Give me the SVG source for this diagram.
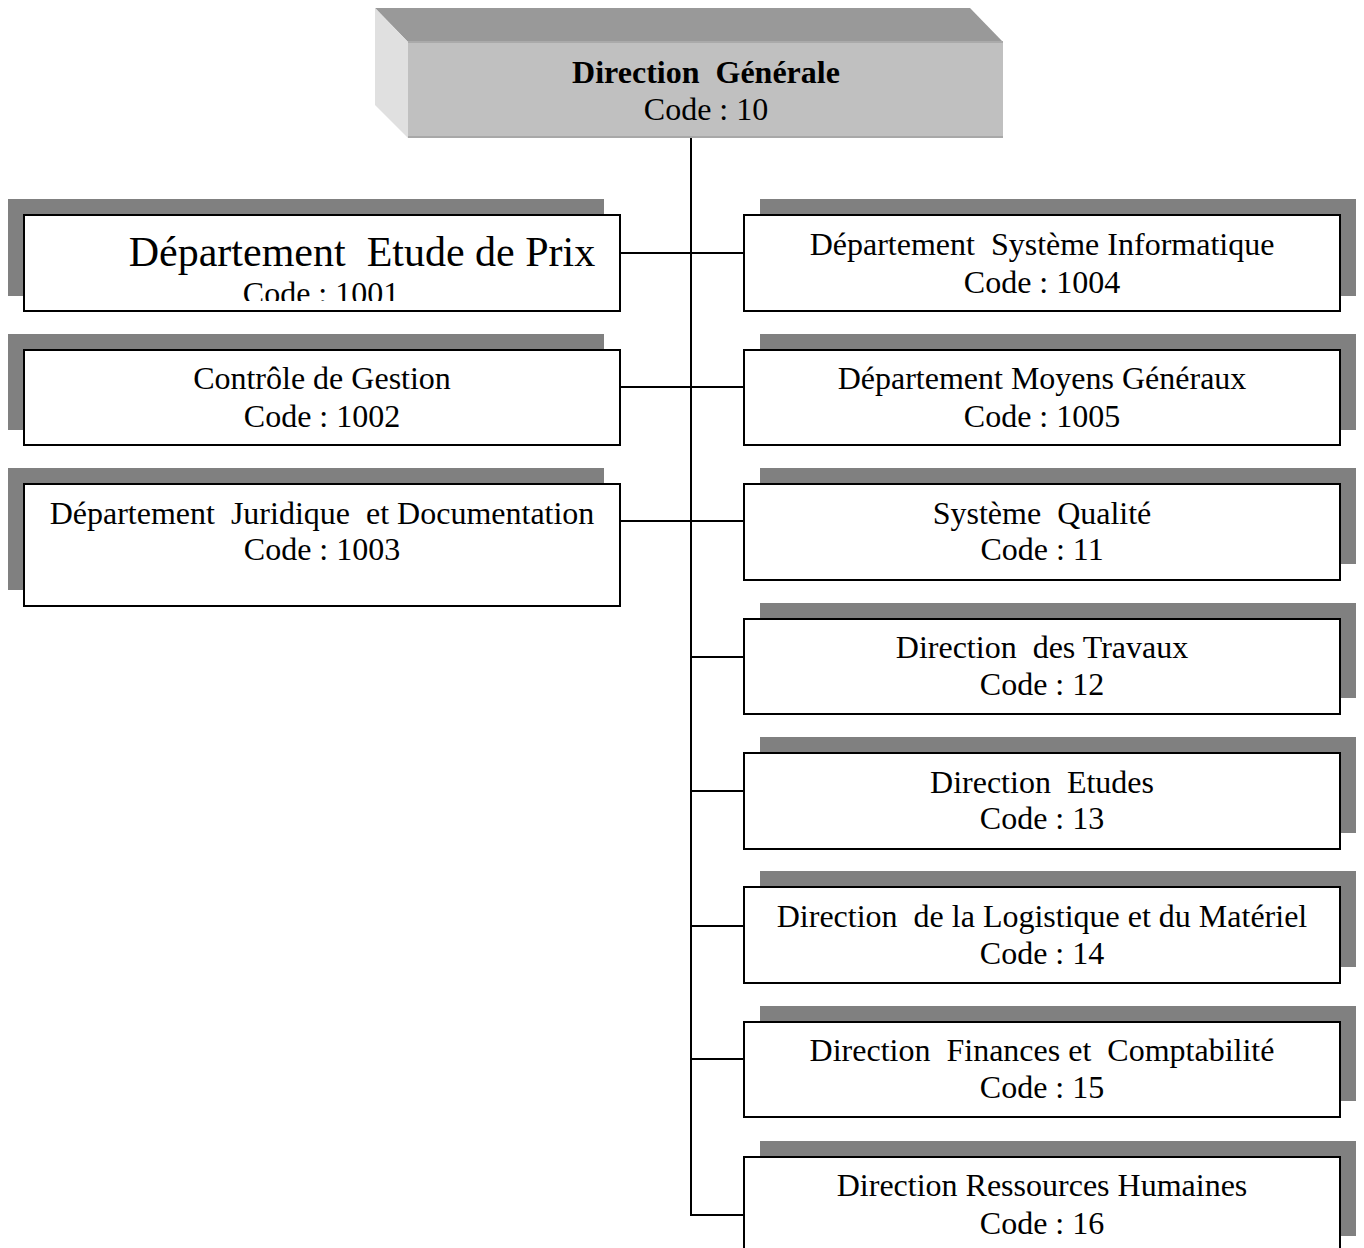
<svg xmlns="http://www.w3.org/2000/svg" width="1364" height="1248" viewBox="0 0 1364 1248">
<style>
.sh{fill:#808080}
.bx{fill:#fff;stroke:#000;stroke-width:2}
.t{font-family:"Liberation Serif","Times New Roman",serif;font-size:32px;fill:#000;text-anchor:middle;white-space:pre}
.b{font-weight:bold}
.big{font-size:42px}
.ln{stroke:#000;stroke-width:2;fill:none}
</style>
<defs>
<clipPath id="c1"><rect x="24" y="215" width="596" height="86"/></clipPath>
</defs>
<rect width="1364" height="1248" fill="#fff"/>

<g id="connectors">
<path class="ln" d="M691 138V1215H747"/>
<path class="ln" d="M620 253H744"/>
<path class="ln" d="M620 387H744"/>
<path class="ln" d="M620 521H744"/>
<path class="ln" d="M691 657H748"/>
<path class="ln" d="M691 791H748"/>
<path class="ln" d="M691 926H748"/>
<path class="ln" d="M691 1059H748"/>
</g>

<g id="n10">
<polygon points="375,8 970,8 1003,42 408,42" fill="#999"/>
<polygon points="375,8 408,42 408,138 375,105" fill="#e0e0e0"/>
<rect x="408" y="42" width="595" height="96" fill="#c0c0c0"/>
<line x1="408" y1="42" x2="1003" y2="42" stroke="#aaa" stroke-width="2"/>
<line x1="408" y1="137" x2="1003" y2="137" stroke="#a8a8a8" stroke-width="2"/>
<text class="t b" x="706" y="83" xml:space="preserve">Direction  Générale</text>
<text class="t" x="706" y="120">Code : 10</text>
</g>

<g id="n1001">
<rect class="sh" x="8" y="199" width="596" height="97"/>
<rect class="bx" x="24" y="215" width="596" height="96"/>
<text class="t big" x="362" y="266" xml:space="preserve">Département  Etude de Prix</text>
<text class="t" x="321" y="304" clip-path="url(#c1)">Code : 1001</text>
</g>

<g id="n1002">
<rect class="sh" x="8" y="334" width="596" height="96"/>
<rect class="bx" x="24" y="350" width="596" height="95"/>
<text class="t" x="322" y="389">Contrôle de Gestion</text>
<text class="t" x="322" y="427">Code : 1002</text>
</g>

<g id="n1003">
<rect class="sh" x="8" y="468" width="596" height="122"/>
<rect class="bx" x="24" y="484" width="596" height="122"/>
<text class="t" x="322" y="524" xml:space="preserve">Département  Juridique  et Documentation</text>
<text class="t" x="322" y="560">Code : 1003</text>
</g>

<g id="n1004">
<rect class="sh" x="760" y="199" width="596" height="97"/>
<rect class="bx" x="744" y="215" width="596" height="96"/>
<text class="t" x="1042" y="255" xml:space="preserve">Département  Système Informatique</text>
<text class="t" x="1042" y="293">Code : 1004</text>
</g>

<g id="n1005">
<rect class="sh" x="760" y="334" width="596" height="96"/>
<rect class="bx" x="744" y="350" width="596" height="95"/>
<text class="t" x="1042" y="389">Département Moyens Généraux</text>
<text class="t" x="1042" y="427">Code : 1005</text>
</g>

<g id="n11">
<rect class="sh" x="760" y="468" width="596" height="96"/>
<rect class="bx" x="744" y="484" width="596" height="96"/>
<text class="t" x="1042" y="524" xml:space="preserve">Système  Qualité</text>
<text class="t" x="1042" y="560">Code : 11</text>
</g>

<g id="n12">
<rect class="sh" x="760" y="603" width="596" height="95"/>
<rect class="bx" x="744" y="619" width="596" height="95"/>
<text class="t" x="1042" y="658" xml:space="preserve">Direction  des Travaux</text>
<text class="t" x="1042" y="695">Code : 12</text>
</g>

<g id="n13">
<rect class="sh" x="760" y="737" width="596" height="96"/>
<rect class="bx" x="744" y="753" width="596" height="96"/>
<text class="t" x="1042" y="793" xml:space="preserve">Direction  Etudes</text>
<text class="t" x="1042" y="829">Code : 13</text>
</g>

<g id="n14">
<rect class="sh" x="760" y="871" width="596" height="96"/>
<rect class="bx" x="744" y="887" width="596" height="96"/>
<text class="t" x="1042" y="927" xml:space="preserve">Direction  de la Logistique et du Matériel</text>
<text class="t" x="1042" y="964">Code : 14</text>
</g>

<g id="n15">
<rect class="sh" x="760" y="1006" width="596" height="95"/>
<rect class="bx" x="744" y="1022" width="596" height="95"/>
<text class="t" x="1042" y="1061" xml:space="preserve">Direction  Finances et  Comptabilité</text>
<text class="t" x="1042" y="1098">Code : 15</text>
</g>

<g id="n16">
<rect class="sh" x="760" y="1141" width="596" height="95"/>
<rect class="bx" x="744" y="1157" width="596" height="100"/>
<text class="t" x="1042" y="1196">Direction Ressources Humaines</text>
<text class="t" x="1042" y="1234">Code : 16</text>
</g>
</svg>
